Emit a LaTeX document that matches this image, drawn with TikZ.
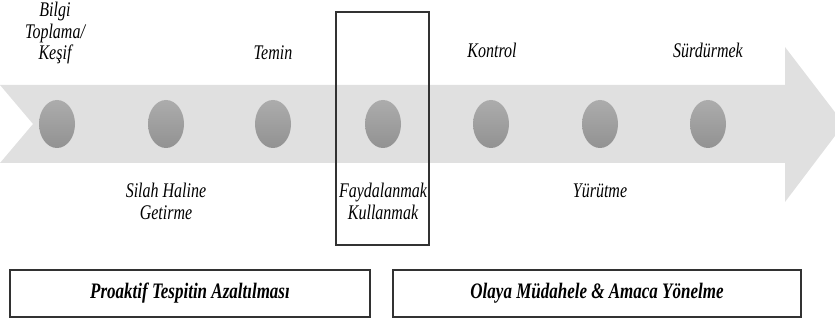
\documentclass[tikz,border=0pt]{standalone}
\usepackage{fontspec}
\setmainfont{Liberation Serif}
\newfontfamily\timesfont{Liberation Serif}
\usetikzlibrary{shapes.geometric}
\definecolor{bandgray}{RGB}{224,224,224}
\definecolor{dottop}{RGB}{172,172,172}
\definecolor{dotbot}{RGB}{146,146,146}
\definecolor{edge}{RGB}{50,50,50}
\newcommand\vstretch[1]{\scalebox{1}[1.3]{\begin{tabular}{@{}c@{}}#1\end{tabular}}}
\begin{document}
\begin{tikzpicture}[x=1pt,y=-1pt,
  band/.style={fill=bandgray,draw=none},
  dot/.style={ellipse,minimum width=36pt,minimum height=48pt,inner sep=0pt,draw=none,top color=dottop,bottom color=dotbot},
  lbl/.style={inner sep=0pt,font=\timesfont\itshape\fontsize{16}{16.5}\selectfont},
  frame/.style={draw=edge,line width=1.1pt},
  phase/.style={draw=edge,line width=1.4pt,fill=white,inner sep=0pt,font=\timesfont\bfseries\itshape\fontsize{17}{18}\selectfont}]
\useasboundingbox (0,0) rectangle (835,320);
\clip (0,0) rectangle (835,320);
\fill[band] (0,85) -- (785,85) -- (785,47) -- (844,124) -- (785,202) -- (785,163) -- (0,163) -- (33,124) -- cycle;
\foreach \x/\n in {57/1,166/2,273/3,383/4,491/5,600/6,708/7}
  \node[dot] (c\n) at (\x,124) {};
\node[frame,minimum width=93pt,minimum height=233pt,inner sep=0pt] (focus) at (382.5,128.5) {};
\node[lbl] (l1) at (55,34) {\vstretch{Bilgi\\Toplama/\\Keşif}};
\node[lbl] (l3) at (273,55) {\vstretch{Temin}};
\node[lbl] (l5) at (492,53) {\vstretch{Kontrol}};
\node[lbl] (l7) at (708,53) {\vstretch{Sürdürmek}};
\node[lbl] (l2) at (166,204) {\vstretch{Silah Haline\\Getirme}};
\node[lbl] (l4) at (383,204) {\vstretch{Faydalanmak\\Kullanmak}};
\node[lbl] (l6) at (600,193) {\vstretch{Yürütme}};
\node[phase,minimum width=360pt,minimum height=47pt] (p1) at (190,293.5) {\scalebox{1}[1.3]{Proaktif Tespitin Azaltılması}};
\node[phase,minimum width=408pt,minimum height=47pt] (p2) at (597,293.5) {\scalebox{1}[1.3]{Olaya Müdahele \& Amaca Yönelme}};
\end{tikzpicture}
\end{document}
